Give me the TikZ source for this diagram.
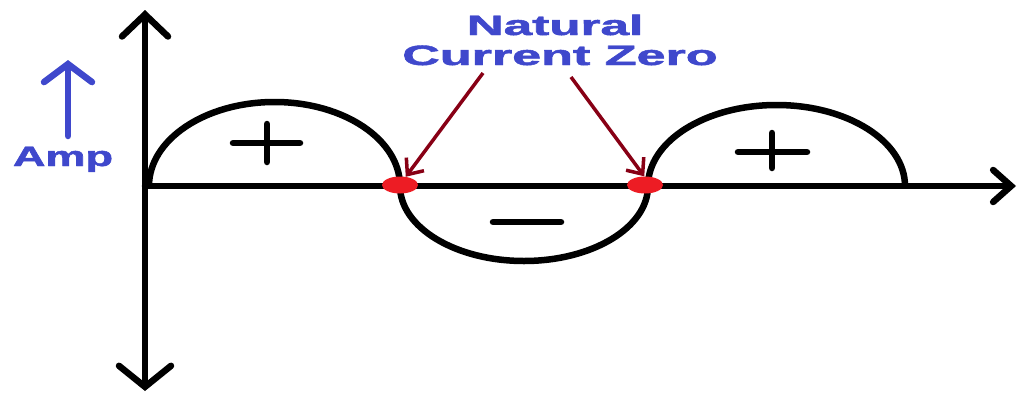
\documentclass[tikz,border=0pt]{standalone}
\usepackage{fontspec}
\setmainfont{Liberation Sans}[BoldFeatures={FakeBold=1.6}]
\usetikzlibrary{arrows.meta,shapes.geometric}
\definecolor{paintblue}{HTML}{3F48CC}
\definecolor{paintdark}{HTML}{880015}
\definecolor{paintred}{HTML}{ED1C24}
\tikzset{
  axisline/.style={line width=6.5pt,black,line cap=round},
  wave/.style={line width=6.5pt,black},
  signline/.style={line width=6.5pt,black,line cap=round},
  pointer/.style={line width=3.5pt,paintdark,-{Straight Barb[length=13pt,width=22pt,line width=3.5pt]}},
  zero/.style={ellipse,fill=paintred,minimum width=36pt,minimum height=17pt,inner sep=0pt},
  lbl/.style={font=\bfseries\fontsize{28}{30}\selectfont,text=paintblue,inner sep=0pt,anchor=base}
}
\begin{document}
\begin{tikzpicture}[x=1pt,y=-1pt]
\useasboundingbox (0,0) rectangle (1021,397);
% axes
\coordinate (o) at (145,186);
\coordinate (ytop) at (145,10);
\coordinate (ybot) at (145,391);
\coordinate (xend) at (1016,186);
\draw[axisline,-{Straight Barb[length=22pt,width=46pt,line width=6.5pt,line cap=round]}] (o) -- (ytop);
\draw[axisline,-{Straight Barb[length=21pt,width=52pt,line width=6.5pt,line cap=round]}] (o) -- (ybot);
\draw[axisline,-{Straight Barb[length=18pt,width=32pt,line width=6.5pt,line cap=round]}] (o) -- (xend);
% waves
\draw[wave] (149,186) arc[start angle=180,end angle=360,x radius=125.5,y radius=84];
\draw[wave] (400,186) arc[start angle=180,end angle=0,x radius=124,y radius=75];
\draw[wave] (648,186) arc[start angle=180,end angle=360,x radius=128.5,y radius=81];
% signs
\draw[signline] (233,143) -- (300,143);
\draw[signline] (267,124) -- (267,162);
\draw[signline] (738,152) -- (807,152);
\draw[signline] (772,133) -- (772,168);
\draw[signline] (493,222) -- (561,222);
% zero points
\node[zero] (z1) at (400,185) {};
\node[zero] (z2) at (645,185) {};
% labels
\node[lbl] (t1) at (555,35) {\scalebox{1.83}[1]{Natural}};
\node[lbl] (t2) at (560,65) {\scalebox{1.86}[1]{Current Zero}};
\coordinate (p1) at (483,73);
\coordinate (p2) at (571,77);
\draw[pointer] (p1) -- (z1.55);
\draw[pointer] (p2) -- (z2.95);
% Amp
\node[lbl] (amp) at (63,166) {\scalebox{1.61}[1]{Amp}};
\coordinate (ampbase) at (68,136);
\coordinate (amptip) at (68,60);
\draw[line width=6.5pt,paintblue,line cap=round,-{Straight Barb[length=18pt,width=48pt,line width=6.5pt,line cap=round]}] (ampbase) -- (amptip);
\end{tikzpicture}
\end{document}
